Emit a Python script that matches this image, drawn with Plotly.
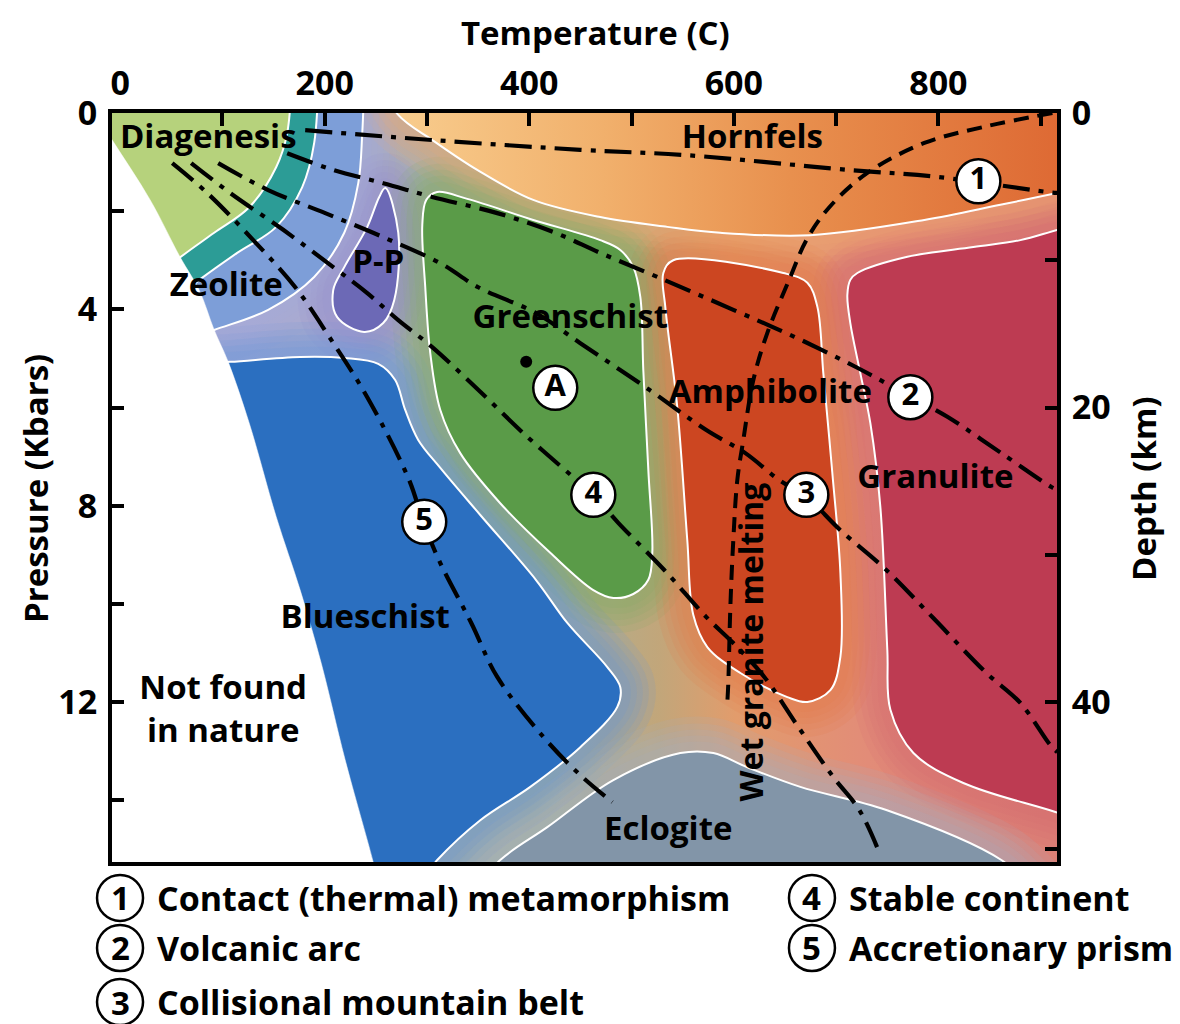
import plotly.graph_objects as go

# ---------------- axis extents (temperature degC, pressure kbar) ----------------
T_MIN, T_MAX = -8, 916
P_MAX = 15.26
KM_PER_KBAR = 10 / 3

x_tick_vals = [0, 200, 400, 600, 800]
x_minor_vals = [100, 200, 300, 400, 500, 600, 700, 800, 900]
p_tick_vals = [0, 2, 4, 6, 8, 10, 12, 14]
p_tick_text = ["0", "", "4", "", "8", "", "12", ""]
km_tick_vals = [0, 10, 20, 30, 40, 50]
km_tick_text = ["0", "", "20", "", "40", ""]

# ---------------- boundary of natural conditions ----------------
edge_T = [-42.8, -7.8, 29.3, 58.7, 77.3, 91.9, 105.6, 126.2, 152.6, 176.0, 196.6, 220.0, 247.4, 256.0]
edge_P = [-0.6, 0.55, 1.77, 2.94, 3.61, 4.42, 5.07, 6.32, 8.23, 9.72, 11.21, 13.18, 15.26, 16.0]

# ---------------- facies boundaries ----------------
diag_T = [168.0, 163.3, 152.6, 126.2, 91.9, 58.7, 19.6]
diag_P = [-1.0, 0.41, 1.10, 1.92, 2.44, 2.94, 3.61]
teal_T = [194.0, 189.7, 178.0, 152.6, 114.4, 77.3, 39.1]
teal_P = [-1.0, 0.61, 1.51, 2.32, 2.85, 3.40, 4.01]
zeol_T = [239.0, 236.7, 232.8, 219.1, 189.7, 144.7, 91.9, 48.9]
zeol_P = [-1.0, 0.41, 1.43, 2.44, 3.34, 4.01, 4.42, 4.73]

pp_T = [259.2, 271.9, 268.0, 257.2, 238.6, 212.2, 208.3, 219.1, 241.6, 253.3, 259.2]
pp_P = [1.53, 2.44, 3.81, 4.28, 4.46, 4.16, 3.61, 3.14, 2.32, 1.71, 1.53]

horn_T = [250.0, 271.9, 305.1, 349.1, 403.9, 469.4, 535.0, 586.8, 674.8, 786.3, 860.6, 916.4, 1000.0]
horn_P = [-0.8, 0.04, 0.55, 1.16, 1.77, 2.12, 2.32, 2.44, 2.49, 2.18, 1.87, 1.63, 1.27]

green_T = [298.3, 295.4, 299.3, 310.0, 339.4, 403.9, 469.4, 489.0, 501.7, 508.6, 511.5, 516.4, 520.3,
           516.4, 501.7, 482.2, 462.6, 420.5, 371.6, 332.5, 313.0, 303.2, 298.3]
green_P = [3.55, 2.28, 1.77, 1.61, 1.75, 2.18, 2.59, 2.79, 3.14, 3.75, 5.24, 7.27, 8.96,
           9.51, 9.80, 9.88, 9.72, 8.96, 7.95, 6.93, 6.05, 4.89, 3.55]

amph_T = [544.7, 533.0, 531.1, 540.8, 648.4, 671.9, 681.7, 687.5, 696.3, 704.2, 704.2, 694.4, 671.9,
          652.3, 606.4, 574.1, 560.4, 554.5, 544.7]
amph_P = [5.99, 3.95, 3.26, 3.00, 3.26, 3.46, 3.95, 5.30, 7.33, 9.37, 11.08, 11.76, 12.00,
          11.90, 11.41, 10.88, 10.23, 8.70, 5.99]

gran_T = [1000.0, 916.4, 880.2, 834.2, 769.7, 720.8, 713.9, 711.0, 713.9, 723.7, 733.5, 743.3, 750.1,
          753.1, 775.6, 824.4, 914.4, 1000.0]
gran_P = [1.90, 2.38, 2.59, 2.73, 2.93, 3.26, 3.40, 3.71, 4.28, 5.30, 6.32, 8.03, 10.94,
          12.16, 13.04, 13.65, 14.24, 14.80]

blue_T = [58.7, 107.6, 176.0, 219.1, 252.3, 268.9, 278.7, 291.4, 313.0, 352.1, 406.8, 437.2, 476.3,
          489.0, 486.1, 449.9, 401.0, 352.1, 310.0, 280.0, 29.3]
blue_P = [5.13, 5.07, 4.97, 4.99, 5.11, 5.44, 6.05, 6.66, 7.23, 8.19, 9.52, 10.39, 11.29,
          11.70, 12.10, 12.92, 13.73, 14.41, 15.22, 16.00, 16.00]

eclo_T = [340.0, 371.6, 417.6, 482.2, 547.7, 580.0, 613.2, 665.0, 749.1, 861.6, 900.0]
eclo_P = [16.00, 15.22, 14.55, 13.59, 13.04, 13.04, 13.33, 13.73, 14.20, 15.22, 16.00]

# ---------------- geotherms ----------------
g1_T = [180.9, 305.1, 449.9, 554.5, 712.0, 798.0, 906.6, 916.4]
g1_P = [0.35, 0.55, 0.75, 0.86, 1.16, 1.30, 1.61, 1.63]
g2_T = [163.3, 208.3, 257.2, 305.1, 368.7, 425.4, 469.4, 525.2, 599.5, 659.2, 719.8, 773.6, 808.8, 861.6, 910.5, 916.4]
g2_P = [0.82, 1.16, 1.43, 1.71, 2.04, 2.44, 2.85, 3.34, 4.01, 4.56, 5.18, 5.79, 6.19, 6.93, 7.62, 7.68]
g3_T = [95.8, 144.7, 200.5, 257.2, 313.0, 350.1, 406.8, 449.9, 517.4, 573.1, 611.3, 644.5, 670.9, 704.2,
        749.1, 794.1, 847.0, 880.2, 909.5, 916.4]
g3_P = [1.02, 1.57, 2.04, 2.53, 3.06, 3.55, 4.08, 4.69, 5.64, 6.46, 6.93, 7.48, 7.82, 8.50,
        9.31, 10.27, 11.41, 12.02, 12.88, 13.02]
g4_T = [69.4, 107.6, 159.4, 208.3, 241.6, 271.9, 305.1, 352.1, 396.1, 443.0, 462.6, 487.0, 532.0,
        573.1, 599.5, 629.8, 663.1, 697.3, 722.7, 741.3]
g4_P = [1.02, 1.63, 2.38, 3.14, 3.67, 4.22, 4.77, 5.68, 6.56, 7.42, 7.78, 8.35, 9.31,
        10.27, 10.80, 11.49, 12.51, 13.53, 14.20, 15.02]
g5_T = [50.9, 85.1, 130.1, 171.2, 204.4, 241.6, 282.6, 296.3, 313.0, 343.3, 368.7, 413.7, 449.9, 481.2]
g5_P = [1.02, 1.63, 2.59, 3.55, 4.56, 5.79, 7.48, 8.33, 9.17, 10.39, 11.49, 12.71, 13.49, 14.04]

wet_T = [911.5, 843.0, 786.3, 730.6, 693.4, 670.9, 655.3, 632.8, 619.1, 609.3, 603.4, 599.5, 596.6, 594.6, 593.8]
wet_P = [0.0, 0.29, 0.61, 1.22, 1.92, 2.59, 3.34, 4.48, 5.44, 6.66, 7.48, 8.70, 10.07, 11.61, 11.95]

# ---------------- labels ----------------
label_text = ["Diagenesis", "Hornfels", "Zeolite", "P-P", "Greenschist", "Amphibolite",
              "Granulite", "Blueschist", "Not found<br>in nature", "Eclogite"]
label_T = [86.1, 618.1, 103.7, 252.3, 440.1, 635.7, 797.1, 239.6, 100.7, 535.9]
label_P = [0.55, 0.55, 3.57, 3.10, 4.22, 5.75, 7.48, 10.33, 12.20, 14.65]

circ_text = ["1", "2", "3", "4", "5", "A"]
circ_T = [839.1, 772.6, 670.9, 462.6, 297.3, 425.4]
circ_P = [1.39, 5.79, 7.78, 7.78, 8.33, 5.60]

point_A_T = [397.0]
point_A_P = [5.07]

wet_label = "Wet granite melting"
wet_label_T = 616.1
wet_label_P = 10.78

legend_num = ["1", "2", "3", "4", "5"]
legend_txt = ["Contact (thermal) metamorphism", "Volcanic arc", "Collisional mountain belt",
              "Stable continent", "Accretionary prism"]

# ---------------- colours ----------------
C_DIAG = "#b6d27c"
C_TEAL = "#2c9c96"
C_ZEOL = "#7d9ed8"
C_PP = "#6c69b6"
C_GREEN = "#5a9b48"
C_AMPH = "#cc4621"
C_GRAN = "#bd3b52"
C_BLUE = "#2b6fc0"
C_ECLO = "#8295a8"

FONT = "Open Sans"

fig = go.Figure()


def spl(T, P, **kw):
    return go.Scatter(x=T, y=P, mode="lines", line_shape="spline", hoverinfo="skip", **kw)


# base transitional colour field
fig.add_trace(go.Scatter(
    x=[-80, 1000, 1000, -80], y=[-2, -2, 17, 17], fill="toself", mode="lines",
    line=dict(width=0, color="rgba(0,0,0,0)"), hoverinfo="skip",
    fillgradient=dict(type="horizontal", start=-8, stop=916,
                      colorscale=[[0.0, "#b0aed8"], [0.25, "#acabcc"], [0.36, "#a7b0a2"],
                                  [0.47, "#acb092"], [0.58, "#c2a67a"], [0.66, "#e29c6c"],
                                  [0.8, "#e28c78"], [1.0, "#dc8076"]])))

# halos (soft transitions between facies)
halos = [
    (zeol_T + [-80, -80], zeol_P + [zeol_P[-1], -1.0], "rgba(160,168,220,{a})"),
    (pp_T, pp_P, "rgba(150,145,205,{a})"),
    (horn_T + [horn_T[-1], horn_T[0]], horn_P + [-2, -2], "rgba(240,172,110,{a})"),
    (green_T, green_P, "rgba(125,172,100,{a})"),
    (amph_T, amph_P, "rgba(226,120,70,{a})"),
    (gran_T, gran_P, "rgba(212,105,112,{a})"),
    (blue_T, blue_P, "rgba(100,150,218,{a})"),
    (eclo_T, eclo_P, "rgba(165,178,195,{a})"),
]
for width in [70, 56, 44, 32, 20]:
    for T, P, col in halos:
        fig.add_trace(spl(T, P, line=dict(width=width, color=col.format(a=0.14))))

# facies fills with white outlines
fig.add_trace(spl(zeol_T + [-80, -80], zeol_P + [zeol_P[-1], -1.0], fill="toself",
                  fillcolor=C_ZEOL, line=dict(color="white", width=2)))
fig.add_trace(spl(teal_T + [-80, -80], teal_P + [teal_P[-1], -1.0], fill="toself",
                  fillcolor=C_TEAL, line=dict(color="white", width=2)))
fig.add_trace(spl(diag_T + [-80, -80], diag_P + [diag_P[-1], -1.0], fill="toself",
                  fillcolor=C_DIAG, line=dict(color="white", width=2)))
fig.add_trace(spl(pp_T, pp_P, fill="toself", fillcolor=C_PP, line=dict(color="white", width=2)))
fig.add_trace(spl(horn_T + [horn_T[-1], horn_T[0]], horn_P + [-2, -2], fill="toself",
                  line=dict(color="white", width=2),
                  fillgradient=dict(type="horizontal", start=264, stop=916,
                                    colorscale=[[0.0, "#f8cd8e"], [0.32, "#f1b06c"],
                                                [0.6, "#e8904e"], [1.0, "#de6a34"]])))
fig.add_trace(spl(green_T, green_P, fill="toself", fillcolor=C_GREEN, line=dict(color="white", width=2)))
fig.add_trace(spl(amph_T, amph_P, fill="toself", fillcolor=C_AMPH, line=dict(color="white", width=2)))
fig.add_trace(spl(gran_T, gran_P, fill="toself", fillcolor=C_GRAN, line=dict(color="white", width=2)))
fig.add_trace(spl(blue_T, blue_P, fill="toself", fillcolor=C_BLUE, line=dict(color="white", width=2)))
fig.add_trace(spl(eclo_T, eclo_P, fill="toself", fillcolor=C_ECLO, line=dict(color="white", width=2)))

# "not found in nature" region
fig.add_trace(spl(edge_T + [-80, -80], edge_P + [17, -2], fill="toself", fillcolor="white",
                  line=dict(color="white", width=0.5)))

# geotherms
DASHDOT = "27px,9px,5px,9px"
for T, P in [(g1_T, g1_P), (g2_T, g2_P), (g3_T, g3_P), (g4_T, g4_P), (g5_T, g5_P)]:
    fig.add_trace(spl(T, P, line=dict(color="black", width=4.2, dash=DASHDOT)))
fig.add_trace(spl(wet_T, wet_P, line=dict(color="black", width=4, dash="15px,9px")))

# point A
fig.add_trace(go.Scatter(x=point_A_T, y=point_A_P, mode="markers", hoverinfo="skip",
                         marker=dict(size=12, color="black")))

# numbered circles
fig.add_trace(go.Scatter(x=circ_T, y=circ_P, mode="markers+text", text=circ_text,
                         textposition="middle center", hoverinfo="skip", cliponaxis=False,
                         marker=dict(size=44, color="white", line=dict(color="black", width=2.5)),
                         textfont=dict(family=FONT, size=31, color="black", weight="bold")))

# facies labels
fig.add_trace(go.Scatter(x=label_T, y=label_P, mode="text", text=label_text,
                         textposition="middle center", hoverinfo="skip", cliponaxis=False,
                         textfont=dict(family=FONT, size=33, color="black", weight="bold")))

fig.add_annotation(x=wet_label_T, y=wet_label_P, xref="x", yref="y", text=wet_label,
                   textangle=-90, showarrow=False, xanchor="center", yanchor="middle",
                   font=dict(family=FONT, size=32, color="black", weight="bold"))

# dummy traces so the overlay axes render
fig.add_trace(go.Scatter(x=[None], y=[None], xaxis="x2", yaxis="y", showlegend=False))
fig.add_trace(go.Scatter(x=[None], y=[None], xaxis="x", yaxis="y2", showlegend=False))

# axis titles
title_font = dict(family=FONT, size=33, color="black", weight="bold")
fig.add_annotation(x=0.512, y=1.108, xref="paper", yref="paper", text="Temperature (C)",
                   showarrow=False, xanchor="center", yanchor="middle", font=title_font)
fig.add_annotation(x=-0.0815, y=0.4993, xref="paper", yref="paper", text="Pressure (Kbars)",
                   textangle=-90, showarrow=False, xanchor="center", yanchor="middle", font=title_font)
fig.add_annotation(x=1.091, y=0.4993, xref="paper", yref="paper", text="Depth (km)",
                   textangle=-90, showarrow=False, xanchor="center", yanchor="middle", font=title_font)

# key below the chart
legend_col_x = [0.0085, 0.7407]
legend_row_y = [-0.048, -0.1148, -0.187]
text_gap = 0.037
for i, (num, txt) in enumerate(zip(legend_num, legend_txt)):
    col = 0 if i < 3 else 1
    row = i if i < 3 else i - 3
    x, y = legend_col_x[col], legend_row_y[row]
    fig.add_shape(type="circle", xref="paper", yref="paper", xsizemode="pixel", ysizemode="pixel",
                  xanchor=x, yanchor=y, x0=-23, x1=23, y0=-23, y1=23,
                  line=dict(color="black", width=2.5), fillcolor="white")
    fig.add_annotation(x=x, y=y, xref="paper", yref="paper", text=num, showarrow=False,
                       xanchor="center", yanchor="middle",
                       font=dict(family=FONT, size=33, color="black", weight="bold"))
    fig.add_annotation(x=x + text_gap, y=y, xref="paper", yref="paper", text=txt, showarrow=False,
                       xanchor="left", yanchor="middle",
                       font=dict(family=FONT, size=34, color="black", weight="bold"))

tickfont = dict(family=FONT, size=34, color="black", weight="bold")
# page body adds an 8px offset, so the figure is 8px smaller and margins start 8px earlier
fig.update_layout(
    width=1172, height=1016,
    margin=dict(l=104, r=123, t=105, b=162),
    plot_bgcolor="white", paper_bgcolor="white",
    showlegend=False,
    font=dict(family=FONT, color="black"),
    xaxis=dict(range=[T_MIN, T_MAX], side="top", tickvals=x_tick_vals, ticks="",
               showgrid=False, zeroline=False, showline=True, mirror=True,
               linecolor="black", linewidth=4, tickfont=tickfont, ticklabelstandoff=0),
    xaxis2=dict(range=[T_MIN, T_MAX], overlaying="x", side="top", anchor="y",
                tickvals=x_minor_vals, ticks="inside", ticklen=13, tickwidth=4, tickcolor="black",
                showticklabels=False, showgrid=False, zeroline=False, showline=False),
    yaxis=dict(range=[P_MAX, 0], tickvals=p_tick_vals, ticktext=p_tick_text, ticks="inside",
               ticklen=12, tickwidth=4, tickcolor="black", showgrid=False, zeroline=False,
               showline=True, mirror=True, linecolor="black", linewidth=4, tickfont=tickfont,
               ticklabelstandoff=4),
    yaxis2=dict(range=[P_MAX * KM_PER_KBAR, 0], overlaying="y", side="right", anchor="x",
                tickvals=km_tick_vals, ticktext=km_tick_text, ticks="inside", ticklen=12,
                tickwidth=4, tickcolor="black", showgrid=False, zeroline=False, showline=True,
                linecolor="black", linewidth=4, tickfont=tickfont, ticklabelstandoff=4),
)

fig.write_html("out.html")
